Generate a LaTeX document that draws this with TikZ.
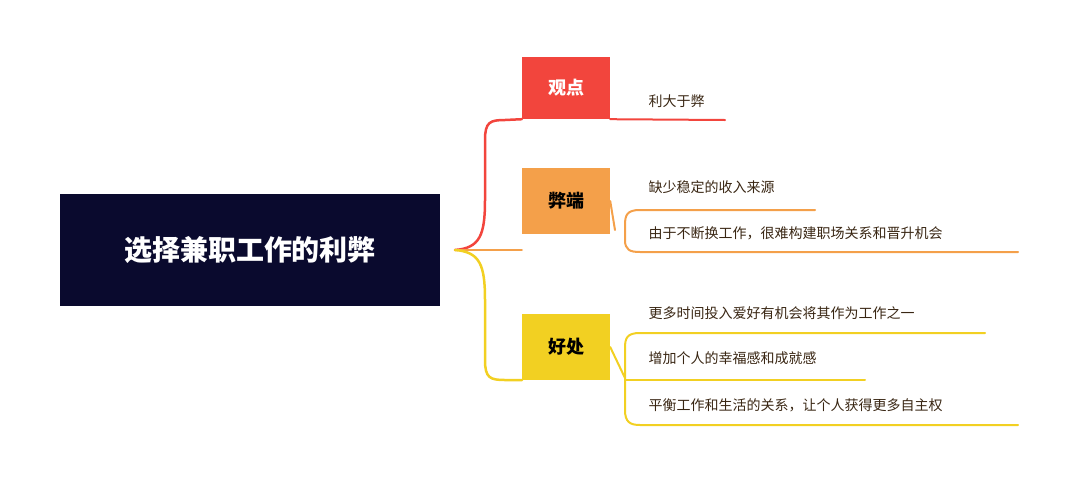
\documentclass[tikz,border=0pt]{standalone}
\usepackage{fontspec}
\setmainfont{Noto Sans CJK SC}
\begin{document}
\begin{tikzpicture}[x=1pt,y=-1pt,
  lf/.style={anchor=west,font=\fontsize{14}{16}\selectfont,text=black!70!brown},
  bx/.style={minimum width=88pt,minimum height=62pt,font=\bfseries\fontsize{18}{20}\selectfont},
  br/.style={line width=2.5pt,line cap=round}]
\definecolor{cr}{HTML}{F2453D}\definecolor{co}{HTML}{F4A04A}\definecolor{cy}{HTML}{F2D022}\definecolor{nv}{HTML}{0A0A2E}
\useasboundingbox (0,0) rectangle (1080,488);
\node[fill=nv,minimum width=380pt,minimum height=112pt,text=white,font=\bfseries\fontsize{28}{30}\selectfont] (root) at (250,250) {选择兼职工作的利弊};
\node[bx,fill=cr,text=white] (a) at (566,88) {观点};
\node[bx,fill=co,minimum height=66pt] (b) at (566,201) {弊端};
\node[bx,fill=cy,minimum height=66pt] (c) at (566,347) {好处};
\coordinate (r) at (455,250);
\draw[br,cr] (r) .. controls (480,248) and (485,235) .. (485,200) -- (485,140) .. controls (485,122) and (490,120) .. (505,120) -- (a.south west);
\draw[br,co] (r) .. controls (485,250) and (495,250) .. (b.west |- 0,250) ;
\draw[br,cy] (r) .. controls (480,252) and (485,265) .. (485,300) -- (485,360) .. controls (485,378) and (490,380) .. (505,380) -- (c.south west);
\node[lf] (t1) at (645,101) {利大于弊};
\draw[br,cr,line width=2pt] (a.south east) -- (725,120);
\node[lf] (t2) at (645,187) {缺少稳定的收入来源};
\node[lf] (t3) at (645,233) {由于不断换工作，很难构建职场关系和晋升机会};
\draw[br,co,line width=2pt] (b.east) -- (615,230);
\draw[br,co,line width=2pt] (815,210) -- (640,210) .. controls (627,210) and (625,215) .. (625,225) -- (625,240) .. controls (625,250) and (630,252) .. (640,252) -- (1018,252);
\node[lf] (t4) at (645,313) {更多时间投入爱好有机会将其作为工作之一};
\node[lf] (t5) at (645,358) {增加个人的幸福感和成就感};
\node[lf] (t6) at (645,405) {平衡工作和生活的关系，让个人获得更多自主权};
\draw[br,cy,line width=2pt] (c.east) -- (625,378);
\draw[br,cy,line width=2pt] (985,333) -- (640,333) .. controls (627,333) and (625,338) .. (625,348) -- (625,410) .. controls (625,422) and (630,425) .. (640,425) -- (1018,425);
\draw[br,cy,line width=2pt] (625,380) -- (865,380);
\end{tikzpicture}
\end{document}
